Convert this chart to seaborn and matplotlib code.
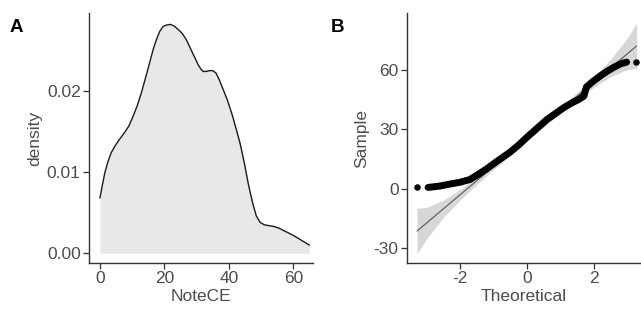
import matplotlib
matplotlib.use('Agg')
import matplotlib.pyplot as plt
import seaborn as sns
import pandas as pd

# Dados
# Painel A: densidade de NoteCE
dens_x = [0, 0.8, 1.5, 2.5, 3.5, 4.8, 6, 7.5, 9, 10.2, 11.5, 12.8, 14, 15.3, 16.5,
          17.5, 18.5, 19.5, 20.5, 21.8, 23, 24.2, 25.5, 26.8, 28, 29.3, 30.5,
          31.3, 32, 33, 34, 35, 36, 37, 38, 39.5, 41, 42.2, 43.5, 44.8, 46,
          47.3, 48.5, 49.7, 51, 52.5, 54, 55.5, 57, 58.5, 60, 62.5, 65]
dens_y = [0.0068, 0.0085, 0.0099, 0.0113, 0.0124, 0.0133, 0.0140, 0.0148,
          0.0157, 0.0168, 0.0181, 0.0197, 0.0214, 0.0233, 0.0251, 0.0263,
          0.0273, 0.0279, 0.0281, 0.0282, 0.0280, 0.0276, 0.0271, 0.0263,
          0.0253, 0.0242, 0.0232, 0.0227, 0.0224, 0.0224, 0.0225, 0.0225,
          0.0222, 0.0214, 0.0204, 0.0189, 0.0171, 0.0154, 0.0135, 0.0111,
          0.0086, 0.0063, 0.0046, 0.0038, 0.0035, 0.0034, 0.0033, 0.0031,
          0.0028, 0.0025, 0.0022, 0.0016, 0.0010]

# Painel B: QQ plot
qq_t = [-2.95, -2.6, -2.3, -2.0, -1.7, -1.4, -1.2, -1.0, -0.75, -0.5, -0.25, 0,
        0.3, 0.6, 0.85, 1.1, 1.35, 1.55, 1.7, 1.78, 1.95, 2.2, 2.4, 2.6, 2.8, 2.98]
qq_s = [0.6, 1.3, 2.3, 3.2, 4.6, 7.8, 10.0, 12.5, 15.5, 18.5, 22, 26,
        30.5, 35, 38, 41, 43.5, 45.2, 46.8, 51.5, 54, 57.2, 59.5, 61.5, 63.2, 64.1]
qq_end_t = [-3.28, 3.25]
qq_end_s = [0.8, 64.4]

qq_line_t = [-3.28, 3.28]
qq_line_s = [-21.5, 72.3]

band_t = [-3.28, -3.0, -2.5, -2.0, -1.5, -1.0, 0, 1.0, 1.5, 2.0, 2.5, 3.0, 3.28]
band_lo = [-33.0, -25.5, -14.8, -5.9, 2.0, 9.6, 24.2, 38.2, 44.9, 51.3, 56.8, 60.3, 60.8]
band_hi = [-10.0, -9.5, -5.9, -0.5, 5.9, 12.6, 26.6, 41.2, 48.8, 56.7, 65.5, 76.3, 83.8]

sns.set_theme(style='ticks')
plt.rcParams['font.family'] = ['Liberation Sans', 'DejaVu Sans']
plt.rcParams['axes.unicode_minus'] = False

cor_eixo = '#333333'
cor_texto = '#4d4d4d'

W, H = 641, 322
fig = plt.figure(figsize=(W / 100, H / 100), dpi=100)


def eixo_px(left, top, right, bottom):
    return fig.add_axes([left / W, 1 - bottom / H, (right - left) / W, (bottom - top) / H])


def estilo(ax, xlabel, ylabel):
    sns.despine(ax=ax)
    for lado in ['left', 'bottom']:
        ax.spines[lado].set_color(cor_eixo)
        ax.spines[lado].set_linewidth(1.0)
    ax.tick_params(length=4, width=0.9, color=cor_eixo, labelsize=12.5,
                   labelcolor=cor_texto, pad=2)
    ax.set_xlabel(xlabel, fontsize=12.5, color=cor_texto, labelpad=2)
    ax.set_ylabel(ylabel, fontsize=12.5, color=cor_texto, labelpad=3)
    ax.grid(False)


# Painel A
axA = eixo_px(89, 13, 313, 263)
df_dens = pd.DataFrame({'NoteCE': dens_x, 'density': dens_y})
axA.fill_between(df_dens['NoteCE'], 0, df_dens['density'], color='#e8e8e8', linewidth=0)
sns.lineplot(data=df_dens, x='NoteCE', y='density', ax=axA, color='#1a1a1a', linewidth=1.0)
axA.set_xlim(-3.4, 66.1)
axA.set_ylim(-0.0012, 0.0296)
axA.set_xticks([0, 20, 40, 60])
axA.set_yticks([0.00, 0.01, 0.02])
axA.set_yticklabels(['0.00', '0.01', '0.02'])
estilo(axA, 'NoteCE', 'density')

# Painel B
axB = eixo_px(407, 13, 641, 263)
axB.fill_between(band_t, band_lo, band_hi, color='#bdbdbd', alpha=0.6, linewidth=0)
sns.lineplot(x=qq_line_t, y=qq_line_s, ax=axB, color='#555555', linewidth=0.8)
sns.lineplot(x=qq_t, y=qq_s, ax=axB, color='black', linewidth=5.0,
             solid_capstyle='round', sort=False)
sns.scatterplot(x=qq_end_t, y=qq_end_s, ax=axB, color='black', s=22, linewidth=0)
axB.set_xlim(-3.58, 3.41)
axB.set_ylim(-37.7, 89)
axB.set_xticks([-2, 0, 2])
axB.set_yticks([-30, 0, 30, 60])
estilo(axB, 'Theoretical', 'Sample')

# Rótulos dos painéis
fig.text(10 / W, 1 - 27 / H, 'A', fontsize=13.5, fontweight='bold', color='black', va='center')
fig.text(331 / W, 1 - 27 / H, 'B', fontsize=13.5, fontweight='bold', color='black', va='center')

fig.savefig('out.png', dpi=100)
